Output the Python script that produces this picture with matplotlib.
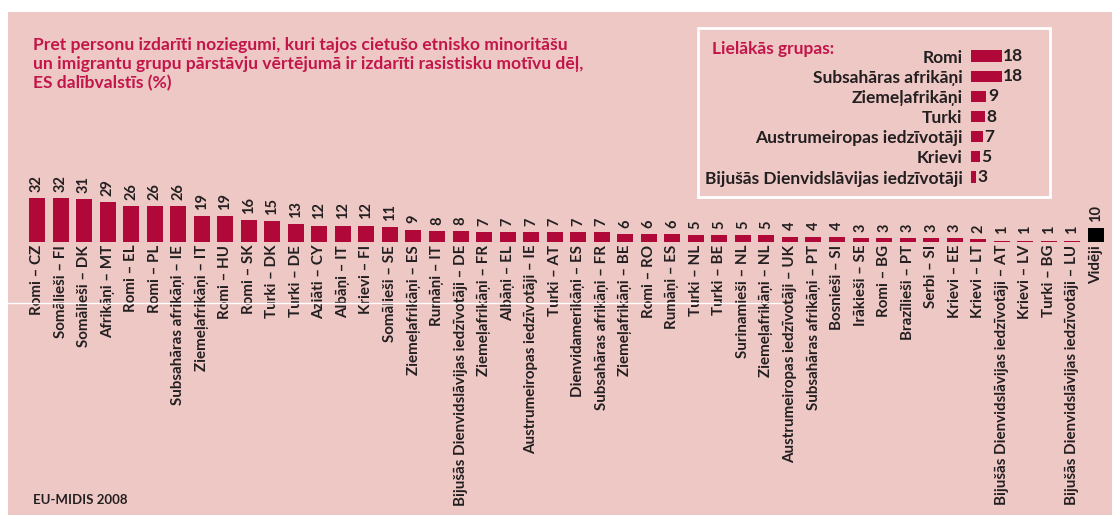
import matplotlib
matplotlib.use("Agg")
import matplotlib.pyplot as plt
from matplotlib.patches import Rectangle
from matplotlib.lines import Line2D

plt.rcParams['font.family'] = ['Lato', 'DejaVu Sans']

groups = [
    "Romi – CZ", "Somālieši – FI", "Somālieši – DK", "Afrikāņi – MT", "Romi – EL",
    "Romi – PL", "Subsahāras afrikāņi – IE", "Ziemeļafrikāņi – IT", "Romi – HU",
    "Romi – SK", "Turki – DK", "Turki – DE", "Aziāti – CY", "Albāņi – IT",
    "Krievi – FI", "Somālieši – SE", "Ziemeļafrikāņi – ES", "Rumāņi – IT",
    "Bijušās Dienvidslāvijas iedzīvotāji – DE", "Ziemeļafrikāņi – FR", "Albāņi – EL",
    "Austrumeiropas iedzīvotāji – IE", "Turki – AT", "Dienvidamerikāņi – ES",
    "Subsahāras afrikāņi – FR", "Ziemeļafrikāņi – BE", "Romi – RO", "Rumāņi – ES",
    "Turki – NL", "Turki – BE", "Surinamieši – NL", "Ziemeļafrikāņi – NL",
    "Austrumeiropas iedzīvotāji – UK", "Subsahāras afrikāņi – PT", "Bosnieši – SI",
    "Irākieši – SE", "Romi – BG", "Brazīlieši – PT", "Serbi – SI", "Krievi – EE",
    "Krievi – LT", "Bijušās Dienvidslāvijas iedzīvotāji – AT", "Krievi – LV",
    "Turki – BG", "Bijušās Dienvidslāvijas iedzīvotāji – LU", "Vidēji",
]
values = [32, 32, 31, 29, 26, 26, 26, 19, 19, 16, 15, 13, 12, 12, 12, 11, 9, 8, 8,
          7, 7, 7, 7, 7, 7, 6, 6, 6, 5, 5, 5, 5, 4, 4, 4, 3, 3, 3, 3, 3, 2, 1, 1, 1, 1, 10]

top_groups = ["Romi", "Subsahāras afrikāņi", "Ziemeļafrikāņi", "Turki",
              "Austrumeiropas iedzīvotāji", "Krievi", "Bijušās Dienvidslāvijas iedzīvotāji"]
top_values = [18, 18, 9, 8, 7, 5, 3]

title = ("Pret personu izdarīti noziegumi, kuri tajos cietušo etnisko minoritāšu\n"
         "un imigrantu grupu pārstāvju vērtējumā ir izdarīti rasistisku motīvu dēļ,\n"
         "ES dalībvalstīs (%)")

W, H = 1112, 515
pink = "#eec8c5"
red = "#b00838"
title_red = "#c2164b"
dark = "#231f20"

fig = plt.figure(figsize=(W / 100, H / 100), dpi=100, facecolor="white")
fig.patches.append(Rectangle((8 / W, 0), 1, 1 - 12 / H, transform=fig.transFigure,
                             facecolor=pink, edgecolor="none", zorder=-10))

# main bar chart
step = 23.53
base = 242
ax = fig.add_axes([0, (H - base) / H, 1, (base - 12) / H])
ax.patch.set_alpha(0)
x = list(range(len(values)))
colors = [red] * (len(values) - 1) + ["black"]
ax.bar(x, values, width=0.68, color=colors)
ax.set_xlim(-37 / step, (W - 37) / step)
ax.set_ylim(0, (base - 12) / 1.375)
for s in ax.spines.values():
    s.set_visible(False)
ax.set_yticks([])
ax.set_xticks(x)
ax.set_xticklabels(groups, rotation=90, fontsize=10.9, color=dark, fontweight="bold")
ax.tick_params(axis="x", length=0, pad=2)
for xi, v in zip(x, values):
    ax.annotate(str(v), (xi, v), xytext=(0, 4.5), textcoords="offset points",
                rotation=90, ha="center", va="bottom", fontsize=10.5, color=dark,
                fontweight="bold")

fig.text(33 / W, 1 - 37 / H, title, ha="left", va="top", fontsize=12.6, color=title_red,
         fontweight="bold", linespacing=1.22)
fig.text(33 / W, 1 - 500 / H, "EU-MIDIS 2008", ha="left", va="center", fontsize=9.5,
         color=dark, fontweight="bold")

# scan artifact line
fig.lines.append(Line2D([8 / W, 783 / W], [1 - 303 / H] * 2, transform=fig.transFigure,
                        color="white", lw=1))

# legend box with biggest groups
fig.patches.append(Rectangle((698 / W, 1 - 197 / H), 352 / W, 169 / H,
                             transform=fig.transFigure, facecolor="none",
                             edgecolor="white", lw=2))
fig.text(712 / W, 1 - 49 / H, "Lielākās grupas:", ha="left", va="center", fontsize=12.5,
         color=title_red, fontweight="bold")

row = 20.17
top_y = 56 - row / 2
ax2 = fig.add_axes([971 / W, 1 - (top_y + row * 7) / H, 70 / W, row * 7 / H])
ax2.patch.set_alpha(0)
yy = list(range(len(top_values)))
ax2.barh(yy, top_values, height=0.55, color=red)
ax2.set_xlim(0, 70 / 1.72)
ax2.set_ylim(6.5, -0.5)
for s in ax2.spines.values():
    s.set_visible(False)
ax2.set_xticks([])
ax2.set_yticks(yy)
ax2.set_yticklabels(top_groups, fontsize=12.5, color=dark, fontweight="bold")
ax2.tick_params(axis="y", length=0, pad=6)
for yi, v in zip(yy, top_values):
    ax2.annotate(str(v), (v, yi), xytext=(1, 0), textcoords="offset points",
                 ha="left", va="center", fontsize=12.5, color=dark, fontweight="bold")

fig.savefig("out.png", dpi=100, facecolor="white")
